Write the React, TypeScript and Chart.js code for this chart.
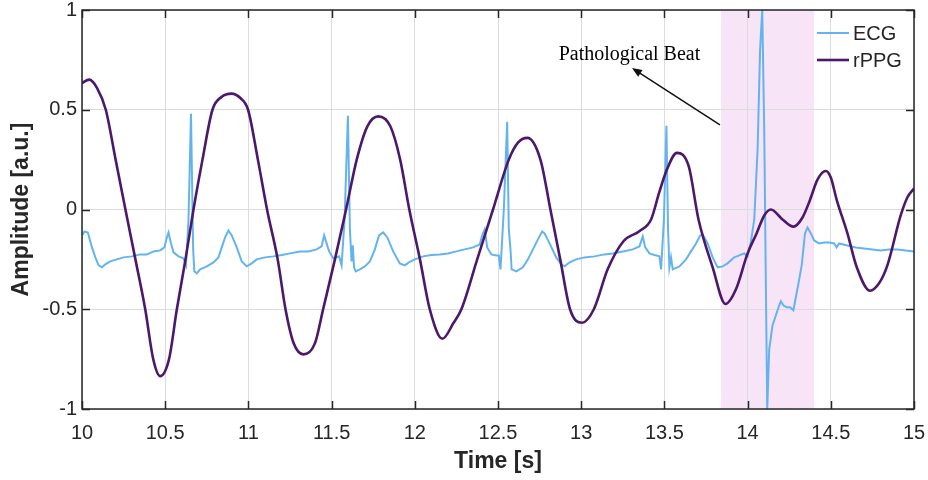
import React, { useEffect, useRef } from 'react';
import { Chart, registerables } from 'chart.js';

Chart.register(...registerables);

// ---------- data ----------
const seriesNames = ['ECG', 'rPPG'];

const ecgTime = [
  10.000, 10.015, 10.035, 10.060, 10.080, 10.100, 10.120, 10.140, 10.170, 10.210,
  10.250, 10.300, 10.350, 10.390, 10.430, 10.470, 10.495, 10.510, 10.520, 10.535,
  10.550, 10.580, 10.610, 10.625, 10.640, 10.655, 10.668, 10.675, 10.690, 10.710,
  10.750, 10.790, 10.820, 10.840, 10.860, 10.880, 10.900, 10.930, 10.960, 10.990,
  11.020, 11.050, 11.100, 11.150, 11.200, 11.250, 11.310, 11.360, 11.410, 11.440,
  11.455, 11.470, 11.485, 11.510, 11.545, 11.560, 11.578, 11.598, 11.610, 11.620,
  11.627, 11.635, 11.645, 11.670, 11.700, 11.730, 11.760, 11.785, 11.810, 11.835,
  11.870, 11.910, 11.940, 11.970, 12.000, 12.050, 12.100, 12.150, 12.200, 12.250,
  12.300, 12.350, 12.390, 12.405, 12.420, 12.435, 12.460, 12.490, 12.505, 12.515,
  12.535, 12.555, 12.565, 12.575, 12.582, 12.610, 12.650, 12.680, 12.710, 12.740,
  12.765, 12.780, 12.810, 12.850, 12.880, 12.900, 12.930, 12.970, 13.020, 13.080,
  13.140, 13.190, 13.250, 13.310, 13.350, 13.370, 13.385, 13.410, 13.440, 13.470,
  13.480, 13.497, 13.512, 13.522, 13.530, 13.540, 13.550, 13.590, 13.630, 13.660,
  13.690, 13.715, 13.730, 13.760, 13.790, 13.820, 13.850, 13.880, 13.920, 13.950,
  13.980, 14.000, 14.020, 14.040, 14.060, 14.075, 14.088, 14.100, 14.110, 14.118,
  14.130, 14.150, 14.170, 14.190, 14.200, 14.215, 14.235, 14.255, 14.275, 14.290,
  14.310, 14.325, 14.345, 14.360, 14.380, 14.400, 14.430, 14.460, 14.490, 14.520,
  14.535, 14.550, 14.600, 14.650, 14.700, 14.750, 14.800, 14.850, 14.900, 14.950,
  15.000,
];
const ecgAmp = [
  -0.130, -0.110, -0.115, -0.190, -0.240, -0.280, -0.290, -0.275, -0.260, -0.250,
  -0.240, -0.235, -0.225, -0.225, -0.210, -0.205, -0.190, -0.140, -0.115, -0.170,
  -0.215, -0.235, -0.245, -0.280, -0.050, 0.480, -0.200, -0.310, -0.320, -0.300,
  -0.285, -0.265, -0.240, -0.190, -0.140, -0.105, -0.130, -0.190, -0.260, -0.285,
  -0.270, -0.250, -0.240, -0.235, -0.228, -0.220, -0.210, -0.210, -0.200, -0.185,
  -0.130, -0.170, -0.210, -0.245, -0.235, -0.280, -0.050, 0.470, -0.100, -0.260,
  -0.180, -0.290, -0.310, -0.300, -0.285, -0.260, -0.200, -0.130, -0.115, -0.140,
  -0.210, -0.270, -0.280, -0.262, -0.250, -0.235, -0.228, -0.225, -0.220, -0.210,
  -0.200, -0.190, -0.175, -0.130, -0.100, -0.190, -0.225, -0.230, -0.230, -0.300,
  0.000, 0.440, -0.100, -0.200, -0.300, -0.310, -0.290, -0.250, -0.200, -0.150,
  -0.110, -0.120, -0.170, -0.240, -0.275, -0.285, -0.265, -0.250, -0.240, -0.235,
  -0.225, -0.220, -0.210, -0.200, -0.185, -0.135, -0.190, -0.220, -0.228, -0.235,
  -0.300, -0.050, 0.420, -0.100, -0.290, -0.240, -0.300, -0.285, -0.250, -0.210,
  -0.170, -0.130, -0.125, -0.170, -0.240, -0.290, -0.285, -0.270, -0.240, -0.230,
  -0.220, -0.235, -0.160, -0.050, 0.300, 0.800, 1.000, 0.400, -0.400, -1.000,
  -0.700, -0.580, -0.530, -0.480, -0.460, -0.480, -0.490, -0.490, -0.505, -0.440,
  -0.350, -0.280, -0.120, -0.090, -0.120, -0.155, -0.170, -0.165, -0.165, -0.170,
  -0.190, -0.170, -0.180, -0.190, -0.195, -0.200, -0.205, -0.200, -0.200, -0.205,
  -0.210,
];

const ppgTime = [
  10.000, 10.043, 10.090, 10.143, 10.202, 10.261, 10.321, 10.380, 10.428, 10.470,
  10.523, 10.570, 10.622, 10.670, 10.724, 10.784, 10.840, 10.898, 10.950, 10.998,
  11.057, 11.112, 11.176, 11.223, 11.271, 11.330, 11.401, 11.449, 11.520, 11.587,
  11.651, 11.715, 11.781, 11.853, 11.912, 11.967, 12.031, 12.090, 12.166, 12.233,
  12.280, 12.375, 12.470, 12.565, 12.620, 12.677, 12.755, 12.815, 12.874, 12.933,
  13.005, 13.076, 13.159, 13.254, 13.349, 13.420, 13.468, 13.515, 13.575, 13.646,
  13.705, 13.790, 13.867, 13.930, 14.000, 14.054, 14.100, 14.140, 14.210, 14.275,
  14.330, 14.375, 14.420, 14.470, 14.500, 14.535, 14.600, 14.655, 14.735, 14.790,
  14.840, 14.920, 14.960, 15.000,
];
const ppgAmp = [
  0.634, 0.651, 0.610, 0.500, 0.250, 0.000, -0.250, -0.500, -0.750, -0.835,
  -0.750, -0.500, -0.250, 0.000, 0.250, 0.500, 0.565, 0.581, 0.560, 0.500,
  0.250, 0.000, -0.250, -0.500, -0.668, -0.726, -0.668, -0.500, -0.250, 0.000,
  0.250, 0.417, 0.467, 0.417, 0.250, 0.000, -0.250, -0.500, -0.648, -0.568,
  -0.500, -0.250, 0.000, 0.250, 0.335, 0.359, 0.250, 0.000, -0.250, -0.500,
  -0.568, -0.500, -0.300, -0.159, -0.109, -0.050, 0.083, 0.200, 0.284, 0.217,
  -0.050, -0.290, -0.474, -0.400, -0.220, -0.120, -0.030, 0.000, -0.050, -0.086,
  -0.040, 0.048, 0.150, 0.193, 0.160, 0.050, -0.120, -0.287, -0.407, -0.370,
  -0.280, -0.030, 0.060, 0.105,
];

const xTicks = [10, 10.5, 11, 11.5, 12, 12.5, 13, 13.5, 14, 14.5, 15];
const xTickLabels = ['10', '10.5', '11', '11.5', '12', '12.5', '13', '13.5', '14', '14.5', '15'];
const yTicks = [-1, -0.5, 0, 0.5, 1];
const yTickLabels = ['-1', '-0.5', '0', '0.5', '1'];

const highlightRange = [13.84, 14.4];
const annotationText = 'Pathological Beat';
const annotationTextAt = [13.29, 0.775];
const arrowFrom = [13.834, 0.424];
const arrowTo = [13.305, 0.709];

const xTitle = 'Time [s]';
const yTitle = 'Amplitude [a.u.]';

// ---------- styles ----------
const ECG_COLOR = '#63b4ee';
const PPG_COLOR = '#4c186b';
const AXIS_COLOR = '#262626';
const SANS = '"Liberation Sans", Arial, Helvetica, sans-serif';
const SERIF = '"Liberation Serif", "Times New Roman", serif';

const decorPlugin = {
  id: 'decor',
  beforeDraw(chart: any) {
    const { ctx, chartArea: a, scales } = chart;
    const x0 = scales.x.getPixelForValue(highlightRange[0]);
    const x1 = scales.x.getPixelForValue(highlightRange[1]);
    ctx.save();
    ctx.fillStyle = '#f7e5f7';
    ctx.fillRect(x0, a.top, x1 - x0, a.bottom - a.top);
    ctx.restore();
  },
  afterDraw(chart: any) {
    const { ctx, chartArea: a, scales } = chart;
    const xs = scales.x;
    const ys = scales.y;
    ctx.save();
    // frame
    ctx.strokeStyle = AXIS_COLOR;
    ctx.lineWidth = 1.5;
    ctx.strokeRect(a.left, a.top, a.right - a.left, a.bottom - a.top);
    // inward ticks
    const tl = 8;
    ctx.beginPath();
    xTicks.forEach((v) => {
      const p = Math.round(xs.getPixelForValue(v)) + 0.5;
      ctx.moveTo(p, a.bottom);
      ctx.lineTo(p, a.bottom - tl);
      ctx.moveTo(p, a.top);
      ctx.lineTo(p, a.top + tl);
    });
    yTicks.forEach((v) => {
      const p = Math.round(ys.getPixelForValue(v)) + 0.5;
      ctx.moveTo(a.left, p);
      ctx.lineTo(a.left + tl, p);
      ctx.moveTo(a.right, p);
      ctx.lineTo(a.right - tl, p);
    });
    ctx.stroke();

    // legend
    const ds = chart.data.datasets;
    const lx0 = a.right - 97;
    const lx1 = a.right - 65;
    ctx.font = `20px ${SANS}`;
    ctx.textBaseline = 'middle';
    ctx.textAlign = 'left';
    seriesNames.forEach((name, i) => {
      const d = ds.find((q: any) => q.label === name);
      const y = a.top + 23 + i * 27;
      ctx.strokeStyle = d.borderColor;
      ctx.lineWidth = d.borderWidth;
      ctx.beginPath();
      ctx.moveTo(lx0, y);
      ctx.lineTo(lx1, y);
      ctx.stroke();
      ctx.fillStyle = AXIS_COLOR;
      ctx.fillText(name, lx1 + 4, y + 1);
    });

    // annotation
    const tx = xs.getPixelForValue(annotationTextAt[0]);
    const ty = ys.getPixelForValue(annotationTextAt[1]);
    ctx.font = `20px ${SERIF}`;
    ctx.fillStyle = '#000';
    ctx.textAlign = 'center';
    ctx.textBaseline = 'middle';
    ctx.fillText(annotationText, tx, ty);

    const ax0 = xs.getPixelForValue(arrowFrom[0]);
    const ay0 = ys.getPixelForValue(arrowFrom[1]);
    const ax1 = xs.getPixelForValue(arrowTo[0]);
    const ay1 = ys.getPixelForValue(arrowTo[1]);
    const ang = Math.atan2(ay1 - ay0, ax1 - ax0);
    const hl = 10;
    const hw = 4;
    ctx.strokeStyle = '#111';
    ctx.lineWidth = 1.5;
    ctx.beginPath();
    ctx.moveTo(ax0, ay0);
    ctx.lineTo(ax1 - Math.cos(ang) * hl * 0.8, ay1 - Math.sin(ang) * hl * 0.8);
    ctx.stroke();
    ctx.fillStyle = '#111';
    ctx.beginPath();
    ctx.moveTo(ax1, ay1);
    ctx.lineTo(
      ax1 - Math.cos(ang) * hl - Math.sin(ang) * hw,
      ay1 - Math.sin(ang) * hl + Math.cos(ang) * hw
    );
    ctx.lineTo(
      ax1 - Math.cos(ang) * hl + Math.sin(ang) * hw,
      ay1 - Math.sin(ang) * hl - Math.cos(ang) * hw
    );
    ctx.closePath();
    ctx.fill();
    ctx.restore();
  },
};

export default function App() {
  const ref = useRef<HTMLCanvasElement | null>(null);

  useEffect(() => {
    if (!ref.current) return;
    const chart = new Chart(ref.current, {
      type: 'line',
      data: {
        datasets: [
          {
            label: seriesNames[0],
            data: ecgTime.map((t, i) => ({ x: t, y: ecgAmp[i] })),
            borderColor: ECG_COLOR,
            borderWidth: 2,
            pointRadius: 0,
            tension: 0,
            order: 2,
          },
          {
            label: seriesNames[1],
            data: ppgTime.map((t, i) => ({ x: t, y: ppgAmp[i] })),
            borderColor: PPG_COLOR,
            borderWidth: 2.6,
            pointRadius: 0,
            cubicInterpolationMode: 'monotone',
            order: 1,
          },
        ],
      },
      options: {
        responsive: false,
        animation: false,
        devicePixelRatio: 1,
        layout: { padding: { top: 10, right: 14, bottom: 0, left: 0 } },
        plugins: {
          legend: { display: false },
          tooltip: { enabled: false },
        },
        scales: {
          x: {
            type: 'linear',
            min: 10,
            max: 15,
            afterBuildTicks: (s: any) => {
              s.ticks = xTicks.map((v) => ({ value: v }));
            },
            afterFit: (s: any) => {
              s.height = 71;
              s.paddingLeft = 0;
              s.paddingRight = 0;
            },
            grid: { color: '#dcdcdc', lineWidth: 1, drawTicks: false },
            border: { display: false },
            ticks: {
              padding: 12,
              color: AXIS_COLOR,
              font: { family: SANS, size: 20 },
              maxRotation: 0,
              callback: (v: any) => xTickLabels[xTicks.indexOf(Number(v))] ?? '',
            },
            title: {
              display: true,
              text: xTitle,
              color: AXIS_COLOR,
              font: { family: SANS, size: 23, weight: 'bold' },
              padding: { top: 0, bottom: 5 },
            },
          },
          y: {
            type: 'linear',
            min: -1,
            max: 1,
            afterBuildTicks: (s: any) => {
              s.ticks = yTicks.map((v) => ({ value: v }));
            },
            afterFit: (s: any) => {
              s.width = 82;
              s.paddingTop = 0;
              s.paddingBottom = 0;
            },
            grid: { color: '#dcdcdc', lineWidth: 1, drawTicks: false },
            border: { display: false },
            ticks: {
              padding: 5,
              color: AXIS_COLOR,
              font: { family: SANS, size: 20, lineHeight: 1 },
              callback: (v: any) => yTickLabels[yTicks.indexOf(Number(v))] ?? '',
            },
            title: {
              display: true,
              text: yTitle,
              color: AXIS_COLOR,
              font: { family: SANS, size: 23, weight: 'bold' },
              padding: { top: 8, bottom: 0 },
            },
          },
        },
      },
      plugins: [decorPlugin],
    } as any);
    return () => chart.destroy();
  }, []);

  return (
    <div style={{ position: 'absolute', left: 0, top: 0, width: 928, height: 480, background: '#fff' }}>
      <canvas ref={ref} width={928} height={480} style={{ display: 'block' }} />
    </div>
  );
}
